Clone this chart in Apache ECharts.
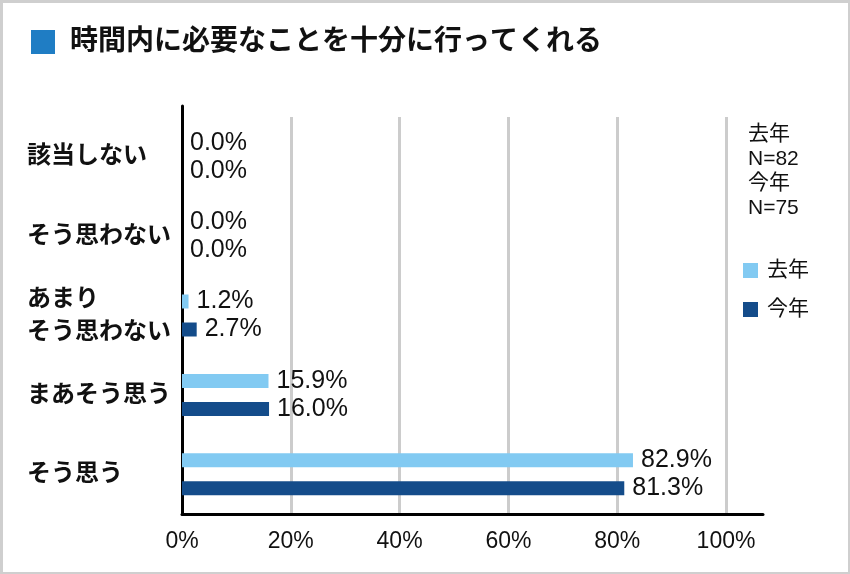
<!DOCTYPE html>
<html>
<head>
<meta charset="utf-8">
<script src="https://cdn.jsdelivr.net/npm/echarts@6/dist/echarts.min.js"></script>
<style>
html,body{margin:0;padding:0;background:#fff;}
#chart{width:850px;height:574px;box-sizing:border-box;border:3px solid #cfcfcf;border-right-width:2px;border-bottom-width:2px;}
</style>
</head>
<body>
<div id="chart"></div>
<script>
const titleText = '時間内に必要なことを十分に行ってくれる';
const categories = ['該当しない', 'そう思わない', 'あまり\nそう思わない', 'まあそう思う', 'そう思う'];
const seriesNames = ['去年', '今年'];
const lastYear = [0.0, 0.0, 1.2, 15.9, 82.9];
const thisYear = [0.0, 0.0, 2.7, 16.0, 81.3];
const nCounts = [82, 75];
const xTicks = [0, 20, 40, 60, 80, 100];

const FONT = "'Liberation Sans', 'Noto Sans CJK JP', sans-serif";
const colors = ['#82CAF2', '#144C8A'];

const chart = echarts.init(document.getElementById('chart'), null, {renderer: 'canvas'});

const nText = seriesNames.map((n, i) => n + '\nN=' + nCounts[i]).join('\n');

const option = {
  backgroundColor: '#fff',
  animation: false,
  title: [
    {
      text: '{sq|}{t|' + titleText + '}',
      left: 23, top: 17,
      textStyle: {
        rich: {
          sq: {width: 24, height: 24, backgroundColor: '#1F7DC4'},
          t: {fontFamily: FONT, fontSize: 28, fontWeight: 'bold', color: '#111', padding: [0, 0, 0, 15], lineHeight: 34}
        }
      }
    },
    {
      text: nText,
      left: 740, top: 114,
      textStyle: {fontFamily: FONT, fontSize: 21, fontWeight: 'normal', color: '#111', lineHeight: 24.5}
    }
  ],
  legend: {
    orient: 'vertical',
    left: 735, top: 252,
    itemWidth: 15, itemHeight: 15, itemGap: 18,
    icon: 'rect',
    data: seriesNames,
    textStyle: {fontFamily: FONT, fontSize: 21, color: '#111', padding: [0, 0, 0, 4]}
  },
  grid: [
    {left: 179, top: 114, width: 544, height: 397, containLabel: false},
    {left: 179, top: 103, width: 581, height: 408, containLabel: false}
  ],
  xAxis: [
    {
      type: 'value', gridIndex: 0, min: 0, max: 100, interval: 20,
      axisLine: {show: false}, axisTick: {show: false},
      splitLine: {show: true, lineStyle: {color: '#cccccc', width: 3}},
      axisLabel: {fontFamily: FONT, fontSize: 23, color: '#111', margin: 16, formatter: v => xTicks.includes(v) ? v + '%' : ''}
    },
    {
      type: 'value', gridIndex: 1, min: 0, max: 100,
      axisLine: {show: true, onZero: false, lineStyle: {color: '#000', width: 3}},
      axisTick: {show: false}, splitLine: {show: false}, axisLabel: {show: false}
    }
  ],
  yAxis: [
    {
      type: 'category', gridIndex: 0, data: categories, inverse: true,
      axisLine: {show: false}, axisTick: {show: false}, splitLine: {show: false},
      axisLabel: {fontFamily: FONT, fontSize: 24, fontWeight: 'bold', color: '#111', align: 'left', margin: 155, lineHeight: 33, padding: [4, 0, 0, 0]}
    },
    {
      type: 'category', gridIndex: 1, data: categories,
      axisLine: {show: true, lineStyle: {color: '#000', width: 3}},
      axisTick: {show: false}, splitLine: {show: false}, axisLabel: {show: false}
    }
  ],
  series: [
    {
      name: seriesNames[0], type: 'bar', xAxisIndex: 0, yAxisIndex: 0,
      data: lastYear, barWidth: 14, barGap: '100%',
      itemStyle: {color: colors[0]},
      label: {show: true, position: 'right', distance: 8, fontFamily: FONT, fontSize: 25, color: '#111', formatter: p => p.value.toFixed(1) + '%'}
    },
    {
      name: seriesNames[1], type: 'bar', xAxisIndex: 0, yAxisIndex: 0,
      data: thisYear, barWidth: 14, barGap: '100%',
      itemStyle: {color: colors[1]},
      label: {show: true, position: 'right', distance: 8, fontFamily: FONT, fontSize: 25, color: '#111', formatter: p => p.value.toFixed(1) + '%'}
    }
  ]
};
chart.setOption(option);
</script>
</body>
</html>
